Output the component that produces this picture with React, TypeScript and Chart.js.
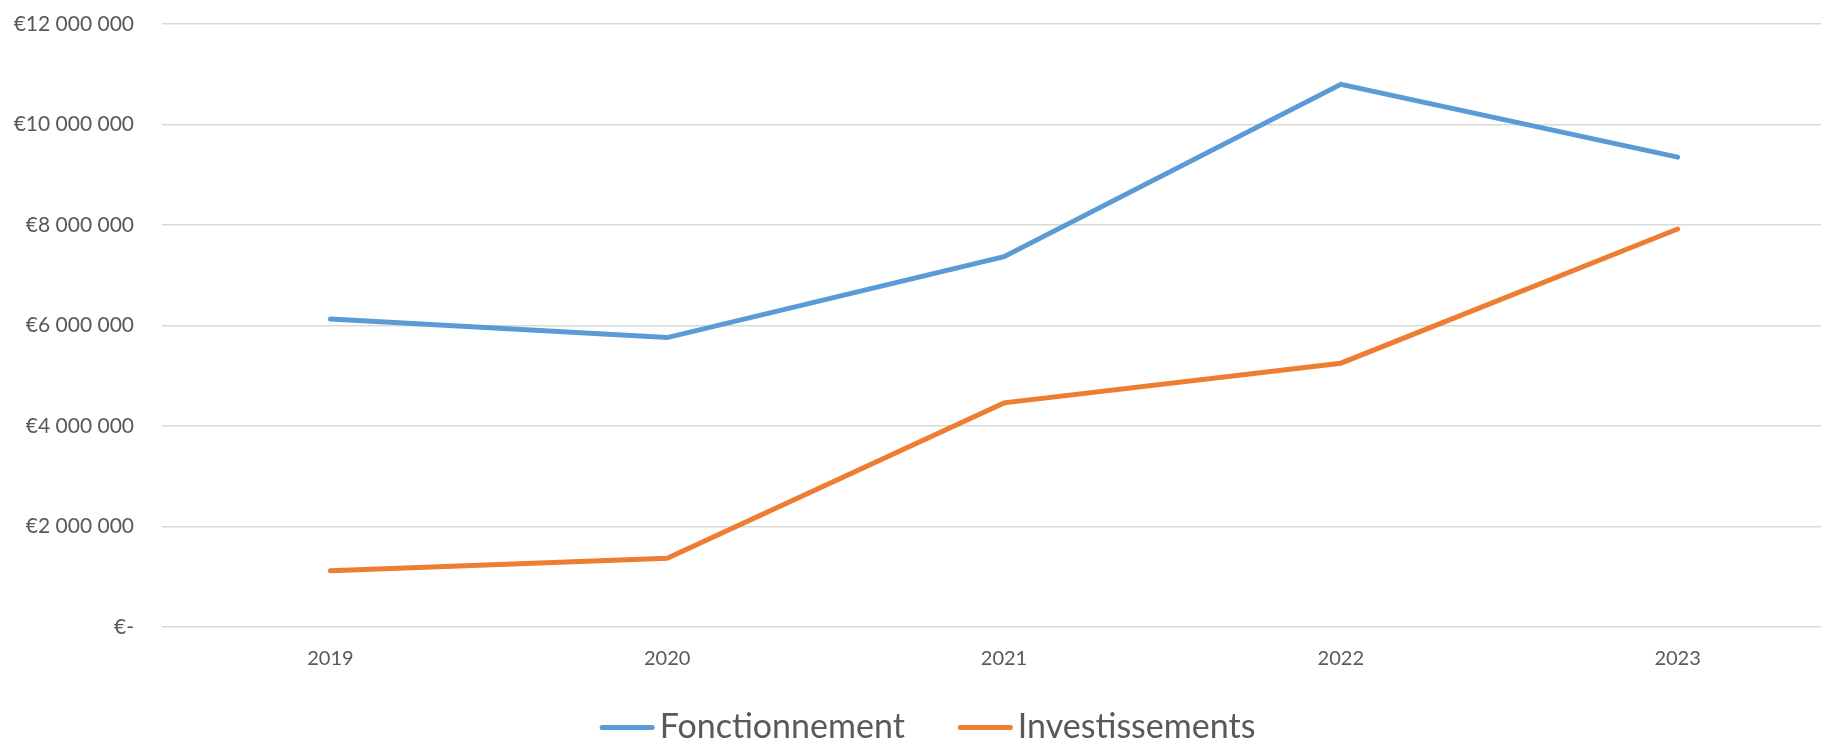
import React, { useEffect, useRef } from "react";
import { Chart, registerables } from "chart.js";

Chart.register(...registerables);

const categories = ["2019", "2020", "2021", "2022", "2023"];
const seriesNames = ["Fonctionnement", "Investissements"];
const fonctionnement = [6130000, 5760000, 7370000, 10800000, 9350000];
const investissements = [1120000, 1370000, 4460000, 5250000, 7920000];
const seriesColors = ["#5B9BD5", "#ED7D31"];
const yMin = 0;
const yMax = 12000000;
const yStep = 2000000;

const FONT = "Lato, 'Open Sans', sans-serif";
const TEXT = "#595959";

function formatEuro(v: number): string {
  if (v === 0) return "€-";
  const s = Math.round(v).toString().replace(/\B(?=(\d{3})+(?!\d))/g, " ");
  return "€" + s;
}

const legendPlugin = {
  id: "bottomLegend",
  afterDraw(chart: any) {
    const ctx = chart.ctx as CanvasRenderingContext2D;
    const datasets = chart.data.datasets;
    const swatchW = 55;
    const swatchGap = 5;
    const itemGap = 53;
    ctx.save();
    ctx.font = `34px ${FONT}`;
    const widths = datasets.map((d: any) => ctx.measureText(d.label).width);
    let total = 0;
    widths.forEach((w: number, i: number) => {
      total += swatchW + swatchGap + w + (i < widths.length - 1 ? itemGap : 0);
    });
    let x = chart.width / 2 - total / 2;
    const baseline = chart.height - 3.5;
    const swatchY = baseline - 10;
    datasets.forEach((d: any, i: number) => {
      ctx.strokeStyle = d.borderColor;
      ctx.lineWidth = 5;
      ctx.lineCap = "round";
      ctx.beginPath();
      ctx.moveTo(x + 2.5, swatchY);
      ctx.lineTo(x + swatchW - 2.5, swatchY);
      ctx.stroke();
      x += swatchW + swatchGap;
      ctx.fillStyle = TEXT;
      ctx.textBaseline = "alphabetic";
      ctx.textAlign = "left";
      ctx.fillText(d.label, x, baseline);
      x += widths[i] + itemGap;
    });
    ctx.restore();
  },
};

export default function App() {
  const canvasRef = useRef<HTMLCanvasElement | null>(null);

  useEffect(() => {
    if (!canvasRef.current) return;
    const chart = new Chart(canvasRef.current, {
      type: "line",
      data: {
        labels: categories,
        datasets: [
          {
            label: seriesNames[0],
            data: fonctionnement,
            borderColor: seriesColors[0],
            backgroundColor: seriesColors[0],
            borderWidth: 5,
            pointRadius: 0,
            tension: 0,
            fill: false,
            borderCapStyle: "round",
          },
          {
            label: seriesNames[1],
            data: investissements,
            borderColor: seriesColors[1],
            backgroundColor: seriesColors[1],
            borderWidth: 5,
            pointRadius: 0,
            tension: 0,
            fill: false,
            borderCapStyle: "round",
          },
        ],
      },
      options: {
        animation: false,
        responsive: true,
        maintainAspectRatio: false,
        layout: { padding: { top: 24, right: 9, bottom: 70, left: 0 } },
        plugins: {
          legend: { display: false },
          tooltip: { enabled: false },
        },
        scales: {
          x: {
            offset: true,
            grid: { display: false, drawTicks: false },
            border: { display: false },
            ticks: {
              color: TEXT,
              font: { family: FONT, size: 20 },
              padding: 20,
              maxRotation: 0,
            },
            afterFit: (scale: any) => {
              scale.height = 44;
            },
          },
          y: {
            min: yMin,
            max: yMax,
            grid: { color: "#D9D9D9", lineWidth: 1.5, drawTicks: false },
            border: { display: false },
            ticks: {
              stepSize: yStep,
              color: TEXT,
              font: { family: FONT, size: 21 },
              padding: 28,
              callback: (v: any) => formatEuro(Number(v)),
            },
            afterFit: (scale: any) => {
              scale.width = 162;
              scale.paddingTop = 0;
              scale.paddingBottom = 0;
            },
          },
        },
      },
      plugins: [legendPlugin],
    });
    return () => chart.destroy();
  }, []);

  return (
    <div
      style={{
        position: "fixed",
        left: 0,
        top: 0,
        width: 1821,
        height: 741,
        overflow: "hidden",
        background: "#fff",
      }}
    >
      <div style={{ position: "relative", width: 1855, height: 741 }}>
        <canvas ref={canvasRef} />
      </div>
    </div>
  );
}
